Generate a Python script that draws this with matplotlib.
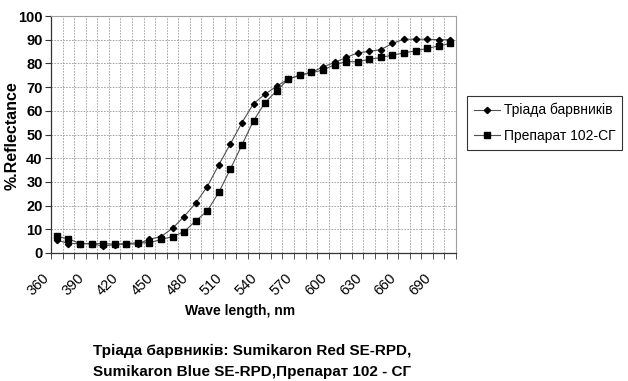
import matplotlib
matplotlib.use('Agg')
import matplotlib.pyplot as plt
import matplotlib.transforms as mtransforms
import numpy as np

# дані
wavelength = [360, 370, 380, 390, 400, 410, 420, 430, 440, 450, 460, 470,
              480, 490, 500, 510, 520, 530, 540, 550, 560, 570, 580, 590,
              600, 610, 620, 630, 640, 650, 660, 670, 680, 690, 700]
triada = [5.5, 4.0, 4.0, 3.8, 3.0, 3.5, 3.8, 3.8, 5.8, 6.9, 10.4, 15.4,
          21.0, 28.0, 37.2, 46.0, 55.0, 63.0, 67.0, 70.4, 73.4, 75.0, 76.2, 78.5,
          80.4, 82.5, 84.4, 85.1, 85.8, 88.4, 90.2, 90.2, 90.2, 90.0, 90.0]
preparat = [7.0, 6.0, 4.0, 4.0, 4.0, 3.7, 4.0, 4.3, 4.3, 5.7, 6.9, 9.0,
            13.5, 17.7, 25.6, 35.4, 45.6, 55.8, 63.5, 68.4, 73.4, 75.0, 76.2, 77.1,
            79.5, 80.7, 80.7, 81.7, 82.5, 83.5, 84.4, 85.3, 86.3, 87.4, 88.4]
series_names = ['Тріада барвників', 'Препарат 102-СГ']
x_label = 'Wave length, nm'
y_label = '%.Reflectance'
caption = ['Тріада барвників: Sumikaron Red SE-RPD,',
           'Sumikaron Blue SE-RPD,Препарат 102 - СГ']

plt.rcParams['font.family'] = ['Liberation Sans', 'DejaVu Sans']

fig = plt.figure(figsize=(6.28, 3.81), dpi=100)
ax = fig.add_axes([51 / 628, 1 - 253 / 381, 405 / 628, 237 / 381])

x = np.arange(len(wavelength))
l1, = ax.plot(x, triada, color='#505050', lw=0.8, marker='D', ms=3.2,
              mfc='black', mec='black', label=series_names[0])
l2, = ax.plot(x, preparat, color='#505050', lw=0.8, marker='s', ms=4.3,
              mfc='black', mec='black', label=series_names[1])

ax.set_xlim(-0.5, len(wavelength) - 0.5)
ax.set_ylim(0, 100)
ax.set_yticks(np.arange(0, 101, 10))
ax.set_xticks(x[::3])
ax.set_xticklabels([str(w) for w in wavelength[::3]])
ax.set_xticks(np.arange(-0.5, len(wavelength)), minor=True)

ax.tick_params(axis='x', which='major', length=0, pad=13, labelsize=10.5)
ax.tick_params(axis='x', which='minor', length=4, direction='out', color='#333333')
ax.tick_params(axis='y', which='major', length=4, direction='out', color='#333333',
               labelsize=10.5, pad=2)
for t in ax.get_yticklabels():
    t.set_fontweight('bold')

# підписи осі х під кутом
offset = mtransforms.ScaledTranslation(-5 / 100, 0, fig.dpi_scale_trans)
for t in ax.get_xticklabels():
    t.set_rotation(45)
    t.set_ha('right')
    t.set_va('top')
    t.set_transform(t.get_transform() + offset)

ax.grid(True, axis='x', which='minor', color='#9a9a9a', lw=0.6, ls=(0, (2, 1.5)))
ax.grid(True, axis='y', which='major', color='#9a9a9a', lw=0.6, ls=(0, (2, 1.5)))
ax.set_axisbelow(True)
for s in ['top', 'right']:
    ax.spines[s].set_color('#a0a0a0')
    ax.spines[s].set_linewidth(0.8)
for s in ['left', 'bottom']:
    ax.spines[s].set_color('#333333')
    ax.spines[s].set_linewidth(0.9)

fig.text(12 / 628, 1 - 136 / 381, y_label, rotation=90, ha='center', va='center',
         fontsize=11.5, fontweight='bold')
fig.text(240 / 628, 1 - 311 / 381, x_label, ha='center', va='center',
         fontsize=10, fontweight='bold')
fig.text(93 / 628, 1 - 351 / 381, caption[0], ha='left', va='center',
         fontsize=11, fontweight='bold')
fig.text(93 / 628, 1 - 372 / 381, caption[1], ha='left', va='center',
         fontsize=11, fontweight='bold')

leg = fig.legend([l1, l2], series_names, loc='upper left',
                 bbox_to_anchor=(467 / 628, 1 - 96 / 381),
                 prop={'size': 10},
                 frameon=True, fancybox=False, edgecolor='black',
                 handlelength=1.9, handletextpad=0.25, borderpad=0.5,
                 labelspacing=0.85, borderaxespad=0)
leg.get_frame().set_linewidth(0.8)

fig.savefig('out.png', dpi=100)
